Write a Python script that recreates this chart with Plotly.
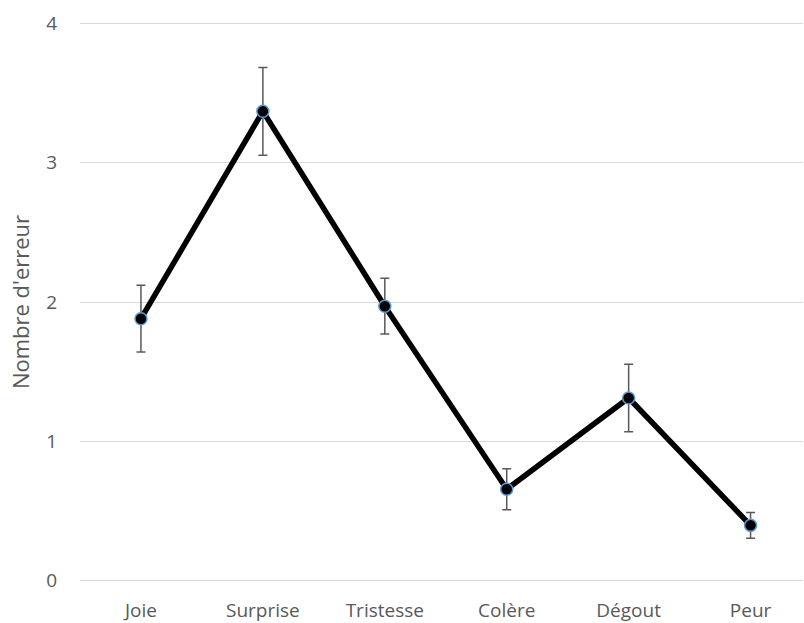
import plotly.graph_objects as go

categories = ["Joie", "Surprise", "Tristesse", "Colère", "Dégout", "Peur"]
means = [1.88, 3.37, 1.97, 0.655, 1.31, 0.395]
errors = [0.24, 0.315, 0.20, 0.147, 0.243, 0.093]
y_ticks = [0, 1, 2, 3, 4]

font_family = "Open Sans, Lato, sans-serif"
grey_text = "#595959"

fig = go.Figure()
fig.add_trace(go.Scatter(
    x=categories, y=means,
    mode="lines+markers",
    line=dict(color="black", width=5.5),
    marker=dict(color="black", size=12, line=dict(color="#5B9BD5", width=1.5)),
    error_y=dict(type="data", array=errors, visible=True,
                 color="#595959", thickness=1.5, width=4.5),
    showlegend=False,
))

fig.update_layout(
    width=804, height=623,
    margin=dict(l=80, r=1, t=22, b=41, autoexpand=False),
    paper_bgcolor="white", plot_bgcolor="white",
    font=dict(family=font_family, size=18, color=grey_text),
    xaxis=dict(
        range=[-0.5, 5.43], showgrid=False, zeroline=False, showline=False,
        ticks="", ticklabelstandoff=15, automargin=False,
        tickfont=dict(size=19, color=grey_text),
    ),
    yaxis=dict(
        range=[-0.012, 4.012], tickvals=y_ticks, showgrid=True, gridcolor="#d9d9d9",
        gridwidth=1.3, zeroline=False, showline=False, ticks="",
        ticklabelstandoff=22, automargin=False,
        tickfont=dict(size=19, color=grey_text),
        title=dict(text="Nombre d'erreur", font=dict(size=22, color=grey_text),
                   standoff=10),
    ),
)

fig.write_html("out.html", post_script="document.body.style.margin='0px';",
               config={"displayModeBar": False})
